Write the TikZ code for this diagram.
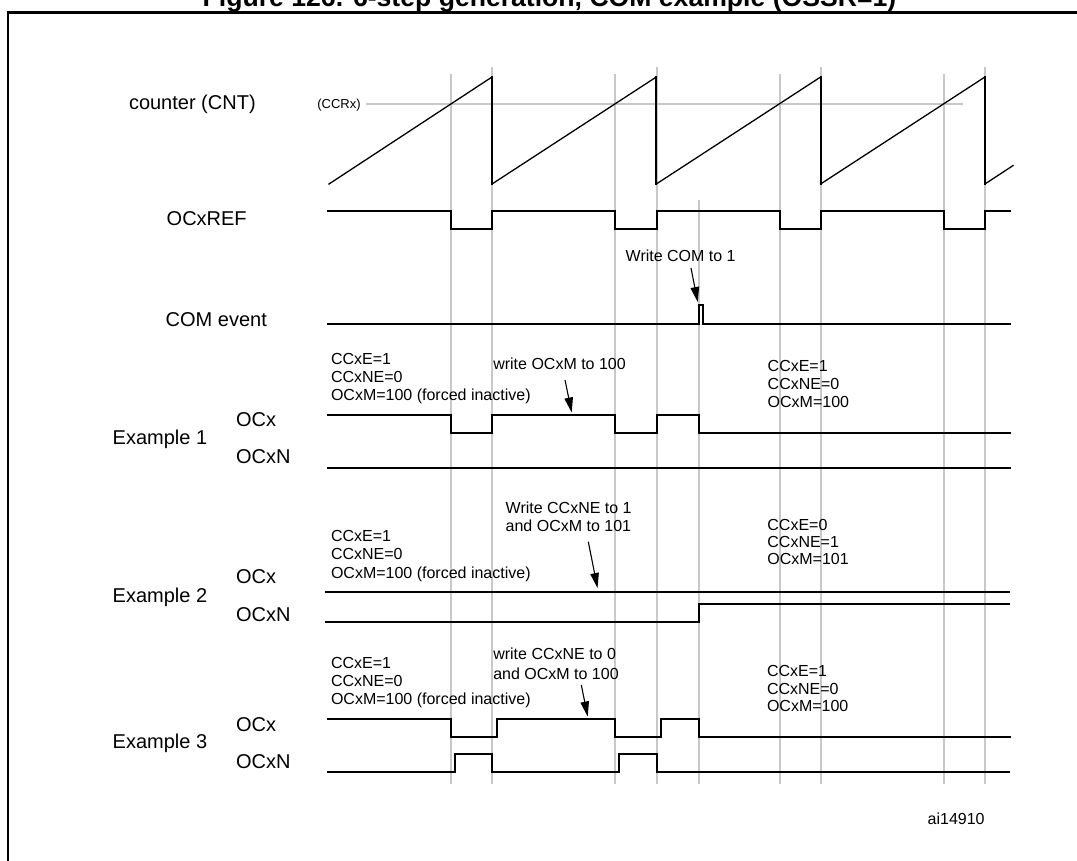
\documentclass[tikz,border=0pt]{standalone}
\usepackage{fontspec}
\setmainfont{Liberation Sans}
\usepackage{tikz}
\usetikzlibrary{arrows.meta}

\begin{document}
\begin{tikzpicture}[x=1pt,y=-1pt,line cap=rect,
		wave/.style={line width=2pt, black},
		ramp/.style={line width=1.3pt, black},
		gridline/.style={line width=1.1pt, custcol_c8_c8_c8, line cap=butt},
		biglabel/.style={inner sep=0, outer sep=0, black, anchor=base west, font=\fontsize{20pt}{20pt}\selectfont},
		smalltext/.style={inner sep=0, outer sep=0, black, anchor=base west, font=\fontsize{16pt}{16pt}\selectfont},
		note/.style={line width=1.1pt, line cap=butt, -{Triangle[length=15pt,width=8.5pt]}}]
				\definecolor{custcol_c8_c8_c8}{RGB}{200, 200, 200}
				\fill [white] (0,0) rectangle (1077,860);
				\useasboundingbox (0,0) rectangle (1077,860);
				\node[inner sep=0, outer sep=0, anchor=base, font=\fontsize{26.6pt}{26.6pt}\bfseries\selectfont] (title) at (549.5,6.0) {Figure 126. 6-step generation, COM example (OSSR=1)};
				\draw [line width=2.3pt ] (8.3,12.4) rectangle (1095.0,880.0);
				% grid
				\foreach \gx/\gt in {451/74,492/67,615/74,657/67,699/200,780/74,821/67,944/74,985/67}
					\draw [gridline] (\gx,\gt) -- (\gx,784.0);
				\node[inner sep=0, outer sep=0, anchor=base west, font=\fontsize{13pt}{13pt}\selectfont] (ccrx) at (317.3,108.0) {(CCRx)};
				\draw [gridline] (366.0,104.0) -- (963.0,104.0);
				% counter
				\draw [ramp] (329.0,184.0) -- (492.0,77.0);
				\foreach \p in {656.3,820.6,984.9}
					\draw [ramp] (\p-164.3,184.0) -- (\p,77.0);
				\foreach \p in {492.0,656.3,820.6,984.9}
					\draw [ramp, line width=1.8pt] (\p,77.0) -- (\p,184.0);
				\draw [ramp] (984.9,184.0) -- (1013.0,165.6);
				% OCxREF and COM
				\draw [wave] (328.0,211.0) -| (451.0,229.3) -| (492.0,211.0) -| (615.0,229.3) -| (657.0,211.0) -| (780.0,229.3) -| (821.0,211.0) -| (944.0,229.3) -| (985.0,211.0) -- (1010.0,211.0);
				\draw [wave] (328.0,324.0) -| (699.0,305.3) -| (703.0,324.0) -- (1010.0,324.0);
				% example 1
				\draw [wave] (328.0,414.7) -| (451.0,432.7) -| (492.0,414.7) -| (615.0,432.7) -| (657.0,414.7) -| (699.0,432.7) -- (1010.0,432.7);
				\draw [wave] (328.0,467.5) -- (1010.0,467.5);
				% example 2
				\draw [wave] (326.0,591.5) -- (1009.0,591.5);
				\draw [wave] (326.0,621.5) -| (698.5,604.0) -- (1009.0,604.0);
				% example 3
				\draw [wave] (328.0,719.0) -| (451.0,737.0) -| (497.0,719.0) -| (615.0,737.0) -| (660.7,719.0) -| (698.7,737.0) -- (1009.6,737.0);
				\draw [wave] (328.0,771.7) -| (455.3,754.0) -| (492.3,771.7) -| (619.0,754.0) -| (657.0,771.7) -- (1009.0,771.7);
				% left labels
				\node[biglabel] (cntlabel) at (129.0,109.0) {counter (CNT)};
				\node[biglabel] (reflabel) at (166.7,225.5) {OCxREF};
				\node[biglabel] (comlabel) at (165.7,326.5) {COM event};
				\node[biglabel] (exone) at (112.7,444.5) {Example 1};
				\node[biglabel] (exoneocx) at (236.0,426.5) {OCx};
				\node[biglabel] (exoneocxn) at (236.0,463.9) {OCxN};
				\node[biglabel] (extwo) at (112.7,602.2) {Example 2};
				\node[biglabel] (extwoocx) at (236.0,583.9) {OCx};
				\node[biglabel] (extwoocxn) at (236.0,621.2) {OCxN};
				\node[biglabel] (exthree) at (112.7,748.9) {Example 3};
				\node[biglabel] (exthreeocx) at (236.0,731.2) {OCx};
				\node[biglabel] (exthreeocxn) at (236.0,768.2) {OCxN};
				% register settings
				\foreach \txt [count=\k] in {CCxE=1,CCxNE=0,OCxM=100 (forced inactive)} {
					\node[smalltext] (exoneleft\k) at (331.0,{364.0+18.3*(\k-1)}) {\txt};
					\node[smalltext] (extwoleft\k) at (331.0,{541.4+18.3*(\k-1)}) {\txt};
					\node[smalltext] (exthreeleft\k) at (331.0,{668.0+18.3*(\k-1)}) {\txt};
				}
				\foreach \txt [count=\k] in {CCxE=1,CCxNE=0,OCxM=100} {
					\node[smalltext] (exoneright\k) at (767.7,{371.7+17.7*(\k-1)}) {\txt};
					\node[smalltext] (exthreeright\k) at (767.0,{676.4+17.7*(\k-1)}) {\txt};
				}
				\foreach \txt [count=\k] in {CCxE=0,CCxNE=1,OCxM=101}
					\node[smalltext] (extworight\k) at (767.4,{530.0+17.2*(\k-1)}) {\txt};
				% writes
				\node[smalltext] (comwrite) at (625.7,261.4) {Write COM to 1};
				\node[smalltext] (exonewrite) at (493.3,369.0) {write OCxM to 100};
				\node[smalltext] (extwowrite1) at (505.7,513.0) {Write CCxNE to 1};
				\node[smalltext] (extwowrite2) at (505.7,531.4) {and OCxM to 101};
				\node[smalltext] (exthreewrite1) at (493.3,659.7) {write CCxNE to 0};
				\node[smalltext] (exthreewrite2) at (493.3,679.0) {and OCxM to 100};
				\coordinate (comtail) at (691.0,268.0);
				\coordinate (comhead) at (697.7,302.0);
				\coordinate (exonetail) at (565.0,380.0);
				\coordinate (exonehead) at (571.7,412.5);
				\coordinate (extwotail) at (588.3,541.7);
				\coordinate (extwohead) at (597.5,588.0);
				\coordinate (exthreetail) at (581.3,685.0);
				\coordinate (exthreehead) at (587.7,716.5);
				\draw [note] (comtail) -- (comhead);
				\draw [note] (exonetail) -- (exonehead);
				\draw [note] (extwotail) -- (extwohead);
				\draw [note] (exthreetail) -- (exthreehead);
				\node[inner sep=0, outer sep=0, anchor=base west, font=\fontsize{16pt}{16pt}\selectfont] (docid) at (927.7,824.7) {ai14910};
			\end{tikzpicture}
\end{document}
